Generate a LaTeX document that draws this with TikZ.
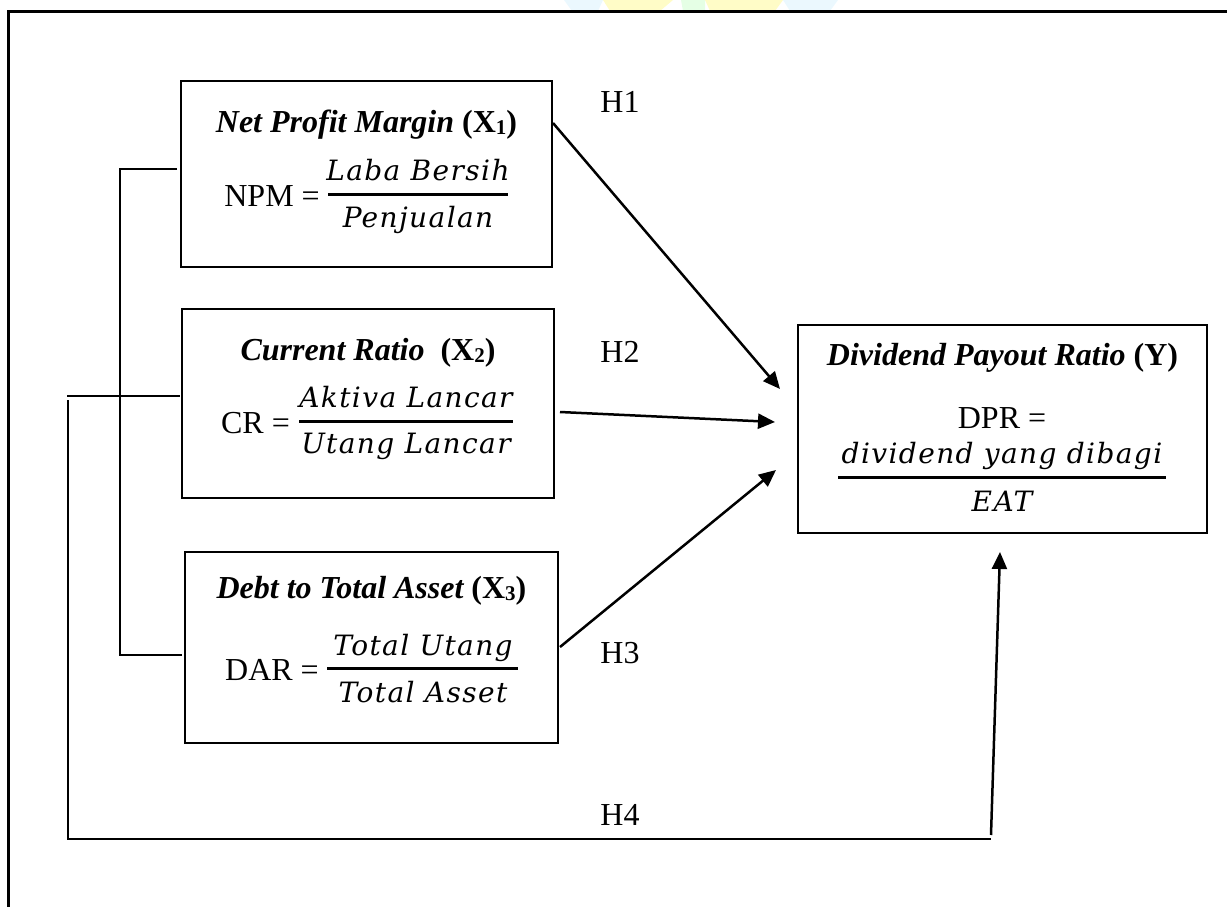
\documentclass[tikz,border=0pt]{standalone}
\usepackage{fontspec}
\setmainfont{Liberation Serif}
\newfontfamily\fracfont{DejaVu Serif}[LetterSpace=5]
\usetikzlibrary{arrows.meta}
\newcommand{\subidx}[1]{\raisebox{-2.5pt}{\fontsize{21}{21}\selectfont #1}}
\begin{document}
\begin{tikzpicture}[x=1pt,y=-1pt,
  box/.style={draw,line width=2.6pt,inner sep=0pt},
  ttl/.style={anchor=base,inner sep=0pt,font=\fontsize{32}{38}\selectfont\bfseries\itshape},
  txt/.style={inner sep=0pt,font=\fontsize{32}{38}\selectfont},
  frc/.style={anchor=base,inner sep=0pt,font=\fontsize{28}{32}\selectfont\fracfont\itshape},
  fbar/.style={line width=3pt},
  thin/.style={line width=1.5pt},
  arr/.style={line width=2.5pt,-{Triangle[length=17pt,width=15pt]}},
]
\useasboundingbox (0,0) rectangle (1227,907);
% faint watermark at top
\fill[cyan!8] (564,0) -- (603,0) -- (598,11) -- (572,11) -- cycle;
\fill[yellow!22] (603,0) -- (673,0) -- (660,11) -- (610,11) -- cycle;
\fill[green!10] (681,0) -- (705,0) -- (705,11) -- (683,11) -- cycle;
\fill[yellow!22] (705,0) -- (783,0) -- (775,11) -- (710,11) -- cycle;
\fill[cyan!8] (783,0) -- (838,0) -- (830,11) -- (790,11) -- cycle;
% outer frame
\draw[line width=3pt] (8,907) -- (8,12) -- (1227,12);

% boxes
\node[box,minimum width=371pt,minimum height=186pt] (x1) at (366.5,174) {};
\node[box,minimum width=372pt,minimum height=189pt] (x2) at (368,403.5) {};
\node[box,minimum width=373pt,minimum height=191pt] (x3) at (371.5,647.5) {};
\node[box,minimum width=409pt,minimum height=208pt] (y) at (1002.5,429) {};

% titles
\node[ttl] (t1) at (366.5,132) {Net Profit Margin {\upshape(X\subidx{1})}};
\node[ttl] (t2) at (368,360) {Current Ratio\ \ {\upshape(X\subidx{2})}};
\node[ttl] (t3) at (371.5,598) {Debt to Total Asset {\upshape(X\subidx{3})}};
\node[ttl] (ty) at (1002.5,365) {Dividend Payout Ratio {\upshape(Y)}};

% formula X1
\node[txt,anchor=base east] (f1) at (320,206) {NPM =};
\node[frc] (n1) at (418,180) {Laba Bersih};
\node[frc] (d1) at (418,227) {Penjualan};
\draw[fbar] (328,194) -- (508,194);
% formula X2
\node[txt,anchor=base east] (f2) at (290,433) {CR =};
\node[frc] (n2) at (406,407) {Aktiva Lancar};
\node[frc] (d2) at (406,453) {Utang Lancar};
\draw[fbar] (299,421) -- (513,421);
% formula X3
\node[txt,anchor=base east] (f3) at (319,680) {DAR =};
\node[frc] (n3) at (423,655) {Total Utang};
\node[frc] (d3) at (423,702) {Total Asset};
\draw[fbar] (327,668) -- (518,668);
% formula Y
\node[txt,anchor=base] (fy) at (1002,428) {DPR =};
\node[frc] (ny) at (1002,463) {dividend yang dibagi};
\node[frc] (dy) at (1002,511) {EAT};
\draw[fbar] (838,477) -- (1166,477);

% hypothesis labels
\node[txt,anchor=base] (h1) at (620,112) {H1};
\node[txt,anchor=base] (h2) at (620,362) {H2};
\node[txt,anchor=base] (h3) at (620,663) {H3};
\node[txt,anchor=base] (h4) at (620,825) {H4};

% connector coordinates
\coordinate (a1s) at (553,123);
\coordinate (a1e) at (780,389);
\coordinate (a2s) at (560,412);
\coordinate (a2e) at (775,422);
\coordinate (a3s) at (560,647);
\coordinate (a3e) at (776,470);
\coordinate (b1) at (177,169);
\coordinate (b2) at (120,169);
\coordinate (b3) at (120,655);
\coordinate (b4) at (182,655);
\coordinate (m1) at (67,396);
\coordinate (m2) at (180,396);
\coordinate (o1) at (68,400);
\coordinate (o2) at (68,839);
\coordinate (o3) at (991,839);
\coordinate (a4s) at (991,835);
\coordinate (a4e) at (1000,552);

% bracket lines
\draw[thin] (b1) -- (b2) -- (b3) -- (b4);
\draw[thin] (m1) -- (m2);
\draw[thin] (o1) -- (o2) -- (o3);

% arrows
\draw[arr] (a1s) -- (a1e);
\draw[arr] (a2s) -- (a2e);
\draw[arr] (a3s) -- (a3e);
\draw[arr] (a4s) -- (a4e);
\end{tikzpicture}
\end{document}
